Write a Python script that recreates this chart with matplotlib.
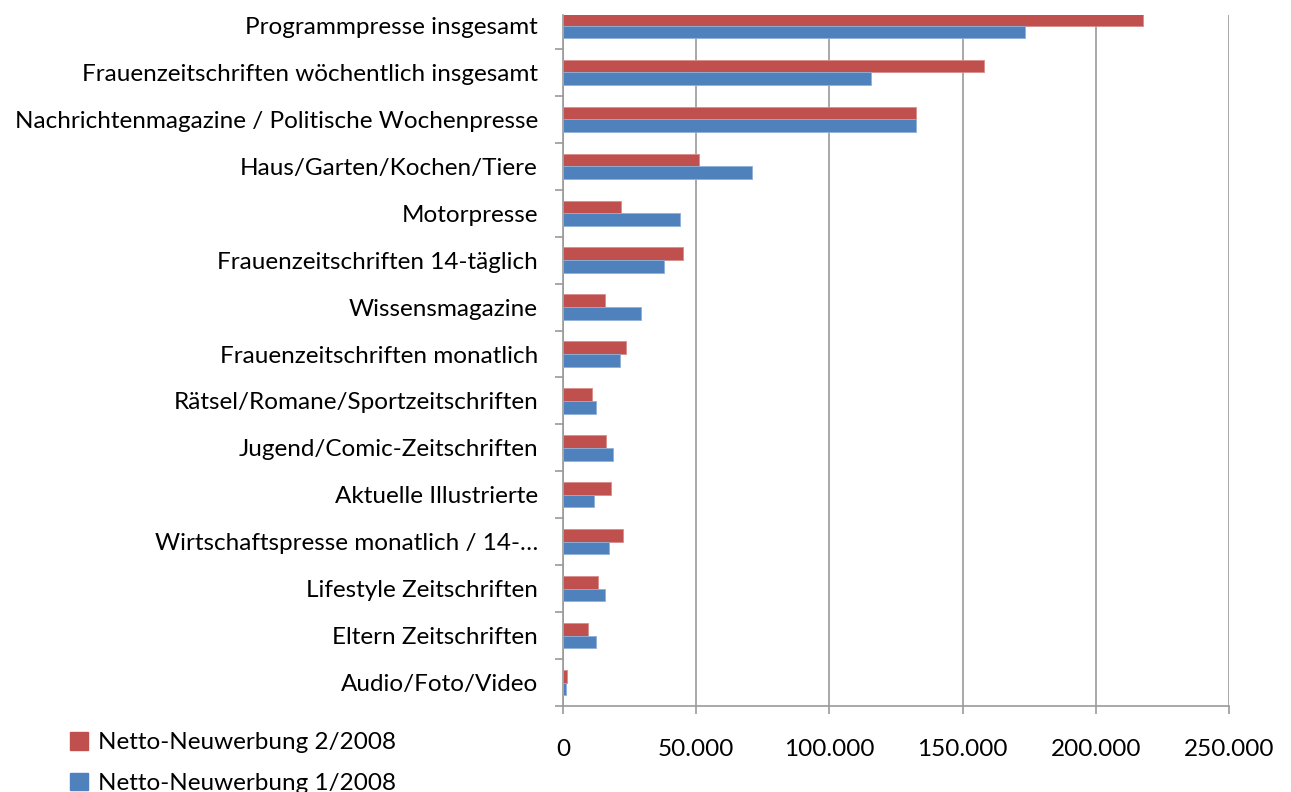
import matplotlib.pyplot as plt
import numpy as np
from matplotlib.patches import Patch
from matplotlib.ticker import FuncFormatter, MultipleLocator

categories = [
    "Programmpresse insgesamt",
    "Frauenzeitschriften wöchentlich insgesamt",
    "Nachrichtenmagazine / Politische Wochenpresse",
    "Haus/Garten/Kochen/Tiere",
    "Motorpresse",
    "Frauenzeitschriften 14-täglich",
    "Wissensmagazine",
    "Frauenzeitschriften monatlich",
    "Rätsel/Romane/Sportzeitschriften",
    "Jugend/Comic-Zeitschriften",
    "Aktuelle Illustrierte",
    "Wirtschaftspresse monatlich / 14-…",
    "Lifestyle Zeitschriften",
    "Eltern Zeitschriften",
    "Audio/Foto/Video",
]
neu_2_2008 = [217700, 158000, 132500, 51000, 21800, 45000, 15800, 23600,
              10900, 16100, 18000, 22500, 13100, 9400, 1500]
neu_1_2008 = [173400, 115600, 132500, 71000, 43900, 37900, 29300, 21400,
              12400, 18800, 11600, 17300, 15800, 12400, 1100]

red = "#C0504D"
blue = "#4F81BD"
grid_c = "#9a9a9a"

plt.rcParams['font.family'] = ['Lato', 'DejaVu Sans']

fig = plt.figure(figsize=(12.91, 7.92), dpi=100)
ax = fig.add_axes([563 / 1291, 86 / 792, 666 / 1291, 691 / 792])

y = np.arange(len(categories))
h = 0.27
ax.barh(y - h / 2, neu_2_2008, height=h, color=red, edgecolor="#d98c8a", linewidth=0.6, zorder=3)
ax.barh(y + h / 2, neu_1_2008, height=h, color=blue, edgecolor="#8fb0d8", linewidth=0.6, zorder=3)

ax.set_ylim(len(categories) - 0.5, -0.224)
ax.set_xlim(0, 250000)
ax.set_yticks(y)
ax.set_yticklabels(categories, fontsize=17.5)
ax.set_yticks(np.arange(0.5, len(categories), 1), minor=True)
ax.tick_params(axis='y', which='major', length=0, pad=18)
ax.tick_params(axis='y', which='minor', length=6, color=grid_c, width=1.2)

ax.xaxis.set_major_locator(MultipleLocator(50000))
ax.xaxis.set_major_formatter(FuncFormatter(lambda v, p: f"{int(v):,}".replace(",", ".")))
ax.tick_params(axis='x', labelsize=17.5, length=6, color=grid_c, width=1.2, pad=18)
ax.grid(axis='x', color=grid_c, linewidth=1.2, zorder=0)

for s in ['top', 'right']:
    ax.spines[s].set_visible(False)
for s in ['left', 'bottom']:
    ax.spines[s].set_color(grid_c)
    ax.spines[s].set_linewidth(1.2)

handles = [Patch(color=red, label="Netto-Neuwerbung 2/2008"),
           Patch(color=blue, label="Netto-Neuwerbung 1/2008")]
fig.legend(handles=handles, loc='upper left', bbox_to_anchor=(60 / 1291, 1 - 722 / 792),
           frameon=False, fontsize=17.5, handlelength=0.75, handleheight=0.75,
           handletextpad=0.4, labelspacing=0.8, borderaxespad=0)

fig.savefig("out.png", dpi=100)
